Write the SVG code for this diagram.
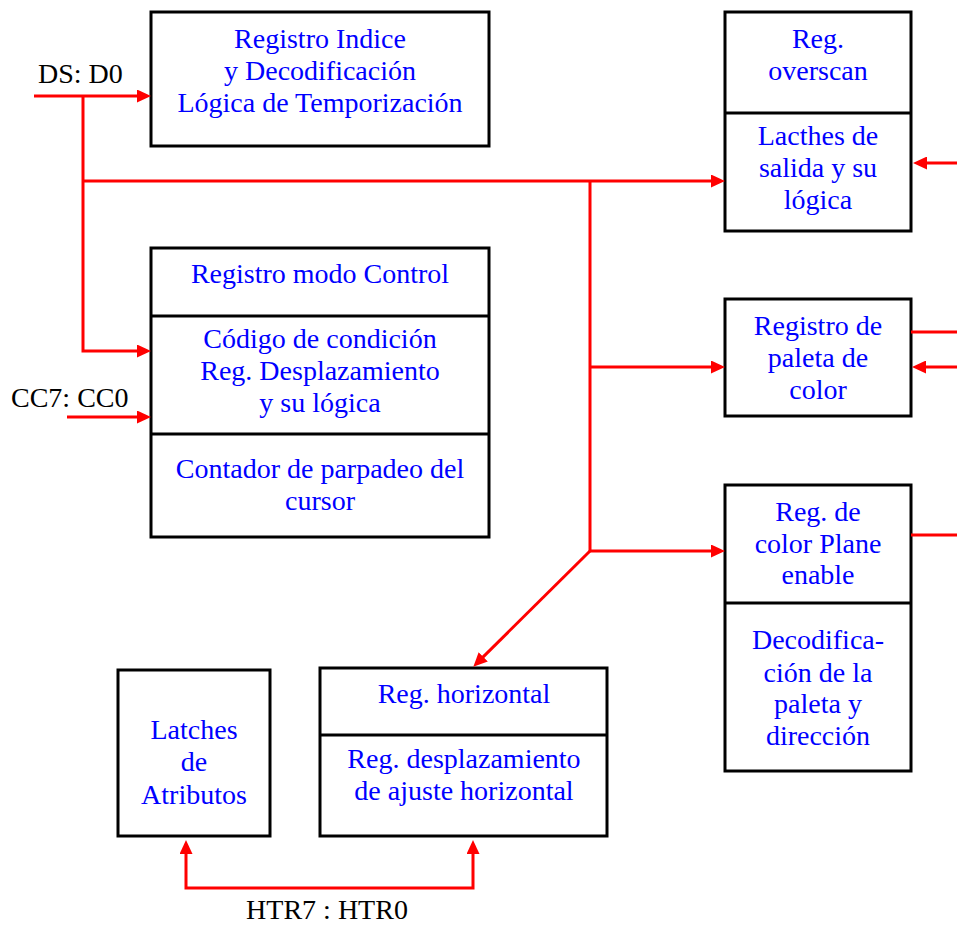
<svg xmlns="http://www.w3.org/2000/svg" width="957" height="926" viewBox="0 0 957 926">
  <style>
    .box { fill: #ffffff; stroke: #000000; stroke-width: 3; }
    .div { stroke: #000000; stroke-width: 3; }
    .t { font-family: "Liberation Serif", "Times New Roman", serif; font-size: 28px; fill: #0000ff; text-anchor: middle; }
    .lbl { font-family: "Liberation Serif", "Times New Roman", serif; font-size: 28px; fill: #000000; }
    .wire { fill: none; stroke: #ff0000; stroke-width: 3; stroke-linejoin: miter; }
    .arr { marker-end: url(#head); }
  </style>
  <defs>
    <marker id="head" markerUnits="userSpaceOnUse" markerWidth="14" markerHeight="13" refX="4" refY="6.5" orient="auto-start-reverse">
      <path d="M0,0 L14,6.5 L0,13 Z" fill="#ff0000"/>
    </marker>
  </defs>

  <rect width="957" height="926" fill="#ffffff"/>

  <!-- Index register / decoding / timing logic -->
  <g id="indice">
    <rect class="box" x="151" y="12" width="338" height="134"/>
    <text class="t" x="320" y="48">Registro Indice</text>
    <text class="t" x="320" y="80">y Decodificación</text>
    <text class="t" x="320" y="112">Lógica de Temporización</text>
  </g>

  <!-- Control mode register block -->
  <g id="control">
    <rect class="box" x="151" y="248" width="338" height="289"/>
    <line class="div" x1="151" y1="316" x2="489" y2="316"/>
    <line class="div" x1="151" y1="434" x2="489" y2="434"/>
    <text class="t" x="320" y="283">Registro modo Control</text>
    <text class="t" x="320" y="348">Código de condición</text>
    <text class="t" x="320" y="380">Reg. Desplazamiento</text>
    <text class="t" x="320" y="412">y su lógica</text>
    <text class="t" x="320" y="478">Contador de parpadeo del</text>
    <text class="t" x="320" y="510">cursor</text>
  </g>

  <!-- Overscan register and output latches -->
  <g id="overscan">
    <rect class="box" x="725" y="12" width="186" height="219"/>
    <line class="div" x1="725" y1="113" x2="911" y2="113"/>
    <text class="t" x="818" y="48">Reg.</text>
    <text class="t" x="818" y="80">overscan</text>
    <text class="t" x="818" y="145">Lacthes de</text>
    <text class="t" x="818" y="177">salida y su</text>
    <text class="t" x="818" y="209">lógica</text>
  </g>

  <!-- Colour palette register -->
  <g id="paleta">
    <rect class="box" x="725" y="299" width="186" height="117"/>
    <text class="t" x="818" y="335">Registro de</text>
    <text class="t" x="818" y="367">paleta de</text>
    <text class="t" x="818" y="399">color</text>
  </g>

  <!-- Colour plane enable / palette decoding -->
  <g id="plane">
    <rect class="box" x="725" y="485" width="186" height="286"/>
    <line class="div" x1="725" y1="603" x2="911" y2="603"/>
    <text class="t" x="818" y="521">Reg. de</text>
    <text class="t" x="818" y="553">color Plane</text>
    <text class="t" x="818" y="584">enable</text>
    <text class="t" x="818" y="649">Decodifica-</text>
    <text class="t" x="818" y="682">ción de la</text>
    <text class="t" x="818" y="713">paleta y</text>
    <text class="t" x="818" y="745">dirección</text>
  </g>

  <!-- Attribute latches -->
  <g id="latches">
    <rect class="box" x="118" y="670" width="152" height="166"/>
    <text class="t" x="194" y="739">Latches</text>
    <text class="t" x="194" y="771">de</text>
    <text class="t" x="194" y="804">Atributos</text>
  </g>

  <!-- Horizontal register -->
  <g id="horizontal">
    <rect class="box" x="320" y="668" width="287" height="168"/>
    <line class="div" x1="320" y1="735" x2="607" y2="735"/>
    <text class="t" x="464" y="703">Reg. horizontal</text>
    <text class="t" x="464" y="768">Reg. desplazamiento</text>
    <text class="t" x="464" y="800">de ajuste horizontal</text>
  </g>

  <!-- Signal labels -->
  <g id="labels">
    <text class="lbl" x="38" y="83">DS: D0</text>
    <text class="lbl" x="11" y="407">CC7: CC0</text>
    <text class="lbl" x="327" y="919" text-anchor="middle">HTR7 : HTR0</text>
  </g>

  <!-- Data bus connectors -->
  <g id="connectors">
    <path class="wire arr" d="M34,96 H141"/>
    <path class="wire arr" d="M83,96 V351 H141"/>
    <path class="wire arr" d="M83,181 H715"/>
    <path class="wire" d="M590,181 V551"/>
    <path class="wire arr" d="M590,367 H715"/>
    <path class="wire arr" d="M590,551 H715"/>
    <path class="wire arr" d="M590,551 L480.4,659.6"/>
    <path class="wire arr" d="M67,417 H141"/>
    <path class="wire arr" d="M957,163 H923"/>
    <path class="wire" d="M911,332 H957"/>
    <path class="wire arr" d="M957,367 H922"/>
    <path class="wire" d="M911,535 H957"/>
    <path class="wire" d="M186,850 V888 H473 V850" marker-start="url(#head)" marker-end="url(#head)"/>
  </g>
</svg>
